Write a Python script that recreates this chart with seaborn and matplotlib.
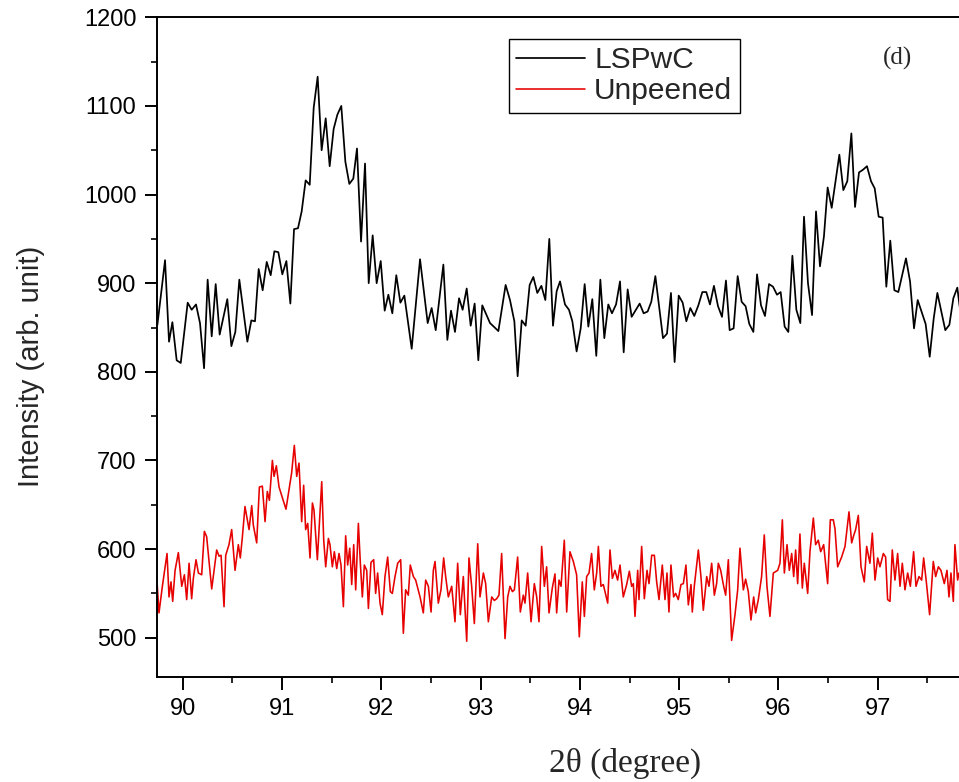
import numpy as np
import pandas as pd
import matplotlib
matplotlib.use("Agg")
import matplotlib.pyplot as plt
import seaborn as sns
from matplotlib.ticker import MultipleLocator

sns.set_style("ticks")
plt.rcParams['font.family'] = ['Liberation Sans', 'DejaVu Sans']

# ---------------- data ----------------
black_x = [89.745, 89.822, 89.862, 89.896, 89.939, 89.980, 90.050, 90.090, 90.134, 90.174,
           90.215, 90.251, 90.292, 90.332, 90.372, 90.449, 90.490, 90.530, 90.570, 90.651,
           90.691, 90.728, 90.765, 90.805, 90.846, 90.886, 90.923, 90.963, 91.003, 91.044,
           91.084, 91.121, 91.161, 91.198, 91.238, 91.279, 91.319, 91.359, 91.399, 91.440,
           91.480, 91.520, 91.557, 91.597, 91.638, 91.678, 91.718, 91.755, 91.796, 91.836,
           91.873, 91.913, 91.953, 91.994, 92.034, 92.071, 92.111, 92.151, 92.192, 92.232,
           92.306, 92.390, 92.467, 92.507, 92.548, 92.625, 92.665, 92.702, 92.742, 92.783,
           92.819, 92.860, 92.900, 92.940, 92.977, 93.017, 93.095, 93.179, 93.252, 93.296,
           93.340, 93.373, 93.414, 93.454, 93.494, 93.531, 93.571, 93.612, 93.652, 93.692,
           93.729, 93.766, 93.800,
           93.850, 93.890, 93.924, 93.967, 94.008, 94.048, 94.085, 94.125, 94.165, 94.206,
           94.246, 94.286, 94.323, 94.364, 94.404, 94.441, 94.481, 94.521, 94.602, 94.642,
           94.682, 94.719, 94.760, 94.837, 94.877, 94.917, 94.954, 94.995, 95.035, 95.072,
           95.112, 95.152, 95.193, 95.233, 95.273, 95.310, 95.350, 95.391, 95.431, 95.471,
           95.508, 95.548, 95.589, 95.629, 95.669, 95.706, 95.747, 95.784, 95.824, 95.864,
           95.905, 95.945, 95.985, 96.022, 96.062, 96.099, 96.140, 96.180, 96.220, 96.257,
           96.297, 96.338, 96.378, 96.418, 96.458, 96.495, 96.536, 96.613, 96.653, 96.693,
           96.734, 96.771, 96.811, 96.851, 96.891, 96.932, 96.969, 97.009, 97.049, 97.086,
           97.126, 97.167, 97.207, 97.284, 97.325, 97.365, 97.402, 97.482, 97.523, 97.563,
           97.600, 97.680, 97.721, 97.761, 97.801, 97.840]
black_y = [853, 926, 834, 856, 813, 810, 878, 870, 876, 855,
           804, 904, 840, 899, 842, 882, 829, 845, 904, 834,
           858, 857, 916, 892, 924, 909, 936, 935, 910, 925,
           877, 961, 962, 981, 1016, 1011, 1098, 1133, 1050, 1086,
           1032, 1074, 1090, 1100, 1037, 1012, 1018, 1052, 947, 1035,
           900, 954, 900, 925, 869, 887, 866, 909, 878, 886,
           826, 927, 855, 872, 847, 921, 836, 869, 845, 883,
           870, 894, 852, 877, 813, 875, 855, 846, 898, 881,
           857, 795, 858, 852, 898, 907, 889, 897, 881, 950,
           852, 891, 902,
           876, 870, 857, 823, 849, 899, 851, 882, 818, 904,
           838, 876, 866, 876, 902, 822, 893, 862, 877, 866,
           868, 879, 908, 838, 843, 889, 811, 886, 878, 857,
           872, 863, 875, 890, 890, 876, 897, 874, 862, 903,
           847, 849, 908, 879, 874, 854, 845, 910, 875, 863,
           899, 896, 887, 890, 851, 845, 931, 870, 855, 975,
           900, 864, 981, 919, 953, 1008, 985, 1045, 1005, 1015,
           1069, 986, 1025, 1028, 1032, 1015, 1007, 975, 974, 896,
           948, 892, 890, 928, 902, 849, 881, 854, 817, 860,
           889, 847, 853, 883, 895, 860]

red_x = [89.738, 89.761, 89.795, 89.842, 89.862, 89.882, 89.899, 89.923, 89.956, 89.990,
         90.017, 90.040, 90.064, 90.090, 90.107, 90.134, 90.158, 90.191, 90.218, 90.241,
         90.292, 90.342, 90.366, 90.386, 90.416, 90.433, 90.466, 90.493, 90.527, 90.560,
         90.580, 90.601, 90.627, 90.648, 90.668, 90.695, 90.711, 90.745, 90.772, 90.802,
         90.829, 90.852, 90.873, 90.903, 90.920, 90.943, 90.970, 91.040, 91.097, 91.124,
         91.148, 91.171, 91.198, 91.218, 91.238, 91.259, 91.282, 91.306, 91.322, 91.356,
         91.400, 91.420, 91.440, 91.467, 91.483, 91.507, 91.527, 91.551, 91.574, 91.594,
         91.618, 91.641, 91.661, 91.682, 91.702, 91.722, 91.742, 91.769, 91.789, 91.809,
         91.829, 91.853, 91.870, 91.896, 91.923, 91.943, 91.963, 91.987, 92.010, 92.037,
         92.064, 92.091, 92.111, 92.138, 92.165, 92.195, 92.222, 92.245, 92.272, 92.292,
         92.323, 92.346, 92.390, 92.423, 92.447, 92.474, 92.501, 92.524, 92.541, 92.574,
         92.601, 92.628, 92.648, 92.675, 92.709, 92.742, 92.769, 92.796, 92.826, 92.860,
         92.883, 92.910, 92.937, 92.971, 92.994, 93.028, 93.051, 93.078, 93.112, 93.138,
         93.162, 93.185, 93.212, 93.246, 93.273, 93.296, 93.320, 93.340, 93.373, 93.400,
         93.430, 93.447, 93.474, 93.508, 93.541, 93.565, 93.588, 93.615, 93.642, 93.665,
         93.689, 93.722, 93.749,
         93.766, 93.790, 93.810, 93.843, 93.867, 93.900, 93.934, 93.967, 93.994, 94.024,
         94.045, 94.068, 94.092, 94.118, 94.145, 94.169, 94.186, 94.212, 94.236, 94.280,
         94.303, 94.327, 94.353, 94.380, 94.404, 94.437, 94.471, 94.498, 94.521, 94.538,
         94.555, 94.582, 94.595, 94.622, 94.649, 94.676, 94.696, 94.723, 94.750, 94.773,
         94.797, 94.830, 94.857, 94.877, 94.897, 94.917, 94.944, 94.964, 94.991, 95.018,
         95.042, 95.068, 95.092, 95.119, 95.132, 95.152, 95.193, 95.219, 95.243, 95.277,
         95.300, 95.327, 95.354, 95.377, 95.394, 95.418, 95.448, 95.468, 95.495, 95.528,
         95.562, 95.589, 95.612, 95.646, 95.669, 95.696, 95.723, 95.750, 95.770, 95.797,
         95.830, 95.857, 95.884, 95.914, 95.948, 95.992, 96.015, 96.039, 96.059, 96.086,
         96.109, 96.133, 96.153, 96.173, 96.193, 96.216, 96.240, 96.260, 96.294, 96.317,
         96.351, 96.374, 96.401, 96.425, 96.455, 96.495, 96.522, 96.552, 96.569, 96.596,
         96.636, 96.670, 96.710, 96.737, 96.754, 96.777, 96.804, 96.831, 96.864, 96.888,
         96.921, 96.945, 96.972, 96.999, 97.022, 97.056, 97.079, 97.099, 97.123, 97.146,
         97.173, 97.200, 97.224, 97.247, 97.274, 97.301, 97.328, 97.361, 97.385, 97.415,
         97.442, 97.462, 97.489, 97.522, 97.559, 97.583, 97.610, 97.636, 97.670, 97.697,
         97.717, 97.737, 97.761, 97.777, 97.804, 97.818, 97.840]
red_y = [569, 528, 558, 595, 546, 563, 541, 576, 596, 558,
         571, 543, 584, 544, 567, 588, 573, 571, 620, 614,
         555, 599, 592, 593, 535, 593, 605, 622, 576, 605,
         590, 614, 648, 635, 622, 649, 627, 607, 670, 671,
         631, 665, 655, 700, 682, 694, 670, 645, 686, 717,
         682, 697, 631, 672, 622, 629, 590, 652, 644, 588,
         676, 610, 580, 612, 605, 580, 597, 578, 595, 582,
         535, 615, 582, 601, 560, 605, 554, 629, 584, 546,
         582, 576, 533, 585, 588, 550, 573, 539, 526, 569,
         591, 552, 550, 569, 584, 588, 505, 554, 548, 582,
         569, 565, 546, 528, 565, 558, 529, 576, 586, 539,
         554, 590, 569, 546, 558, 518, 584, 526, 569, 496,
         590, 558, 516, 606, 546, 573, 561, 518, 546, 542,
         544, 548, 595, 499, 546, 558, 552, 554, 591, 529,
         548, 539, 573, 518, 561, 546, 518, 603, 558, 580,
         528, 556, 572,
         528, 565, 558, 610, 529, 597, 586, 571, 501, 563,
         524, 569, 573, 595, 554, 573, 603, 558, 560, 539,
         599, 567, 576, 565, 582, 546, 560, 575, 558, 561,
         524, 576, 543, 603, 544, 576, 561, 593, 593, 563,
         543, 582, 543, 573, 529, 582, 546, 550, 543, 560,
         561, 582, 537, 560, 529, 558, 599, 569, 531, 569,
         558, 584, 548, 561, 584, 576, 558, 548, 588, 497,
         526, 554, 601, 554, 566, 552, 520, 546, 528, 543,
         569, 616, 558, 524, 573, 576, 584, 633, 573, 605,
         576, 595, 569, 599, 561, 617, 556, 584, 550, 597,
         635, 605, 610, 597, 605, 561, 633, 633, 623, 580,
         591, 603, 642, 607, 614, 622, 638, 580, 563, 603,
         584, 618, 565, 590, 580, 595, 591, 543, 541, 599,
         565, 595, 558, 584, 554, 573, 558, 597, 558, 569,
         565, 590, 563, 526, 586, 569, 580, 576, 561, 576,
         546, 573, 541, 605, 565, 573, 560]

series_names = ["LSPwC", "Unpeened"]
series_colors = ["#000000", "#e60000"]
x_ticks = [90, 91, 92, 93, 94, 95, 96, 97]
y_ticks = [500, 600, 700, 800, 900, 1000, 1100, 1200]

n1 = min(len(black_x), len(black_y))
n2 = min(len(red_x), len(red_y))
df_black = pd.DataFrame({"x": black_x[:n1], "y": black_y[:n1]})
df_red = pd.DataFrame({"x": red_x[:n2], "y": red_y[:n2]})

# ---------------- figure ----------------
W, H = 959, 782
fig = plt.figure(figsize=(W / 100, H / 100), dpi=100)
left, right, top, bottom = 157.3, 959, 17.3, 676.7
ax = fig.add_axes([left / W, 1 - bottom / H, (right - left) / W, (bottom - top) / H])

sns.lineplot(data=df_black, x="x", y="y", color=series_colors[0], lw=1.25, ax=ax,
             label=series_names[0], estimator=None, sort=False)
sns.lineplot(data=df_red, x="x", y="y", color=series_colors[1], lw=1.15, ax=ax,
             label=series_names[1], estimator=None, sort=False)

ax.set_xlim(89.744, 97.818)
ax.set_ylim(456, 1200)
ax.set_xticks(x_ticks)
ax.set_yticks(y_ticks)
ax.xaxis.set_minor_locator(MultipleLocator(0.5))
ax.yaxis.set_minor_locator(MultipleLocator(50))
ax.tick_params(which="major", direction="out", length=9, width=1.4, labelsize=17,
               colors="black", pad=6)
ax.tick_params(which="minor", direction="out", length=4.5, width=1.4)
ax.tick_params(top=False, right=False, which="both")
for s in ["left", "bottom", "top"]:
    ax.spines[s].set_visible(True)
    ax.spines[s].set_linewidth(1.4)
    ax.spines[s].set_color("black")
ax.spines["right"].set_visible(False)
ax.set_xlabel("")
ax.set_ylabel("")

fig.text(625 / W, 1 - 763 / H, "2θ (degree)", family=["Liberation Serif", "DejaVu Serif"],
         fontsize=24, ha="center", va="center")
fig.text(31 / W, 1 - 366 / H, "Intensity (arb. unit)", rotation=90, fontsize=21,
         ha="center", va="center")
fig.text(897 / W, 1 - 58 / H, "(d)", family=["Liberation Serif", "DejaVu Serif"],
         fontsize=18, ha="center", va="center")

leg = ax.legend(loc="upper left", bbox_to_anchor=(509 / W, 1 - 39 / H),
                bbox_transform=fig.transFigure, fontsize=21.5, frameon=True,
                fancybox=False, edgecolor="black", framealpha=1, borderpad=0.25,
                handlelength=2.3, handletextpad=0.3, labelspacing=0.1, borderaxespad=0)
leg.get_frame().set_linewidth(1.0)

fig.savefig("out.png", dpi=100)
